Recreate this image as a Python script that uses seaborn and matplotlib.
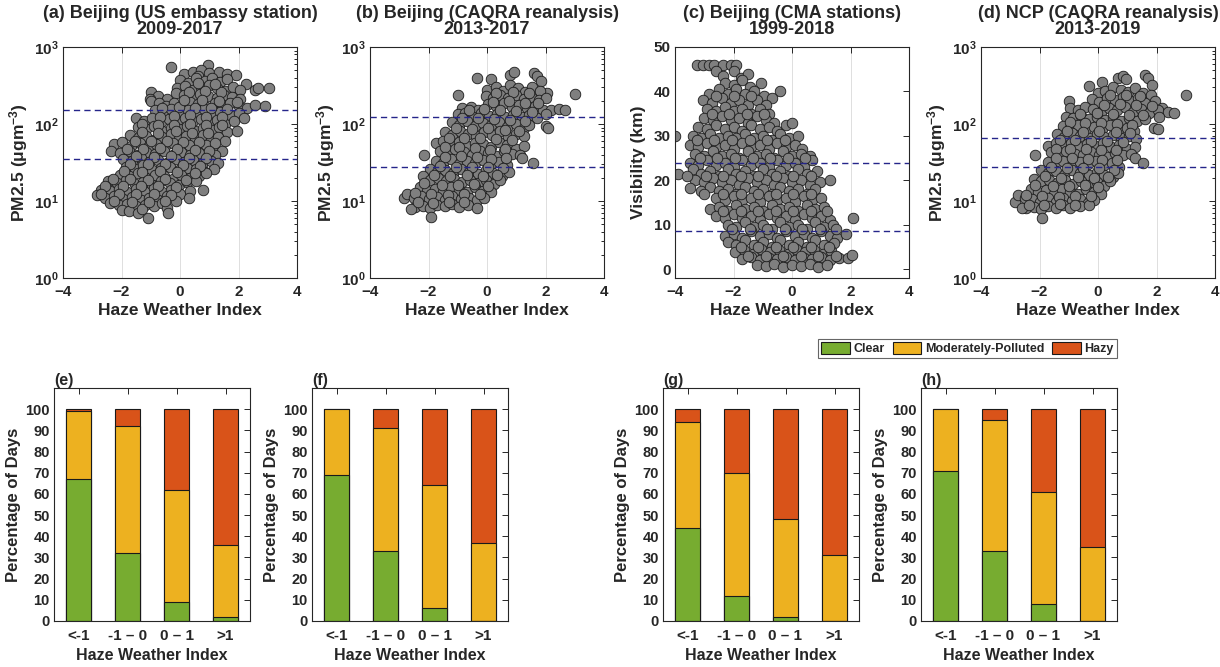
import matplotlib
matplotlib.use("Agg")
import matplotlib.pyplot as plt
import numpy as np
import pandas as pd
import seaborn as sns

# ---------------- data ----------------
# (a) Beijing US embassy: (haze weather index, PM2.5)
pts_a = [(-0.30, 550), (0.95, 590),
 (0.15, 440), (0.45, 470), (0.72, 500), (1.0, 455), (1.35, 480), (1.62, 450), (1.9, 430), (0.6, 420),
 (0.0, 370), (0.28, 340), (0.55, 390), (0.85, 360), (1.1, 400), (1.38, 350), (1.62, 380), (2.25, 330),
 (2.55, 280), (2.65, 290), (3.05, 295),
 (-0.1, 290), (0.18, 310), (0.45, 280), (0.72, 300), (1.0, 320), (1.28, 290), (1.55, 270), (1.8, 300), (2.05, 280),
 (-1.0, 260), (-0.75, 230), (-0.45, 210), (-0.15, 250), (0.12, 235), (0.4, 220), (0.68, 245), (0.95, 230),
 (1.25, 215), (1.5, 240), (1.78, 225), (2.05, 210), (-1.03, 214),
 (-1.0, 200), (-0.72, 185), (-0.48, 170), (-0.2, 190), (0.08, 175), (0.35, 195), (0.62, 180), (0.9, 165),
 (1.18, 190), (1.45, 175), (1.72, 185), (2.0, 170), (2.3, 160), (2.55, 175), (2.9, 172),
 (-0.85, 150), (-0.58, 140), (-0.3, 155), (0.0, 135), (0.28, 150), (0.55, 140), (0.82, 155), (1.1, 135),
 (1.38, 145), (1.7, 130), (2.0, 140), (2.2, 118),
 (-1.5, 120), (-1.22, 110), (-0.95, 118), (-0.65, 105), (-0.38, 115), (-0.1, 108), (0.18, 120), (0.45, 110),
 (0.72, 115), (1.0, 105), (1.28, 112), (1.55, 100), (1.85, 108),
 (-1.45, 92), (-1.15, 85), (-0.88, 95), (-0.6, 82), (-0.3, 90), (-0.02, 86), (0.25, 94), (0.52, 80),
 (0.8, 88), (1.08, 84), (1.35, 92), (1.62, 78), (1.95, 80),
 (-1.72, 72), (-1.45, 65), (-1.15, 70), (-0.9, 62), (-0.6, 68), (-0.32, 74), (-0.05, 64), (0.22, 70),
 (0.5, 66), (0.78, 72), (1.05, 62), (1.3, 68), (1.55, 60),
 (-2.25, 55), (-1.98, 58), (-1.68, 52), (-1.38, 56), (-1.1, 50), (-0.82, 55), (-0.52, 52), (-0.25, 57),
 (0.05, 50), (0.32, 54), (0.6, 49), (0.88, 53), (1.15, 47), (1.42, 45),
 (-2.35, 45), (-2.05, 42), (-1.75, 44), (-1.45, 40), (-1.15, 43), (-0.85, 41), (-0.55, 45), (-0.25, 40),
 (0.05, 43), (0.35, 39), (0.65, 42), (0.95, 38), (1.2, 40),
 (-1.95, 35), (-1.65, 33), (-1.35, 36), (-1.05, 32), (-0.75, 34), (-0.45, 31), (-0.15, 35), (0.15, 32),
 (0.45, 34), (0.75, 30), (1.05, 33), (1.3, 31),
 (-1.85, 28), (-1.55, 26), (-1.25, 29), (-0.95, 25), (-0.65, 27), (-0.35, 28), (-0.05, 25), (0.25, 27),
 (0.55, 26), (0.85, 24), (1.15, 26),
 (-2.05, 22), (-1.75, 21), (-1.45, 23), (-1.15, 20), (-0.85, 22), (-0.55, 21), (-0.25, 19.5), (0.05, 22),
 (0.35, 20), (0.65, 21), (0.9, 23),
 (-2.45, 18), (-2.15, 17), (-1.85, 18.5), (-1.55, 16.5), (-1.25, 17.5), (-0.95, 16), (-0.65, 18), (-0.35, 17),
 (-0.05, 16), (0.25, 17.5), (0.55, 18), (0.8, 14),
 (-2.7, 14), (-2.4, 13.5), (-2.1, 14.5), (-1.8, 13), (-1.5, 14.2), (-1.2, 13.2), (-0.9, 14.6), (-0.6, 13),
 (-0.3, 14), (0.0, 12.5), (0.35, 13.5),
 (-2.85, 12), (-2.55, 11), (-2.25, 11.5), (-1.95, 10.5), (-1.65, 11.2), (-1.35, 10.2), (-1.05, 11),
 (-0.75, 10.4), (-0.45, 11.5), (-0.15, 10), (0.3, 11),
 (-2.4, 9.5), (-2.1, 8.8), (-1.8, 9.2), (-1.5, 8.5), (-1.2, 9), (-0.9, 8.7), (-0.6, 9.3), (-0.45, 8.0),
 (-2.0, 7.6), (-1.75, 7.5), (-1.45, 7.0), (-1.3, 7.8), (-0.4, 7.0), (-1.1, 6.1),
 # denser core
 (-0.6, 160), (-0.05, 165), (0.5, 160), (1.05, 160), (1.6, 155), (-0.7, 125), (-0.2, 128), (0.35, 130),
 (0.9, 125), (1.45, 122), (-1.3, 100), (-0.75, 98), (-0.2, 97), (0.35, 100), (0.9, 96), (1.45, 98),
 (-1.3, 78), (-0.75, 76), (-0.15, 80), (0.4, 77), (0.95, 76), (-1.55, 60), (-1.0, 61), (-0.45, 60),
 (0.1, 58), (0.65, 58), (1.2, 56), (-1.8, 48), (-1.25, 48), (-0.7, 49), (-0.1, 47), (0.5, 46), (1.0, 45),
 (-1.5, 38), (-0.9, 37), (-0.3, 38), (0.3, 36), (0.9, 36), (-1.7, 30), (-1.1, 30.5), (-0.5, 30),
 (0.1, 29.5), (0.7, 28.5), (-1.9, 24.5), (-1.3, 24), (-0.7, 24.5), (-0.1, 23.5), (0.5, 23),
 (-2.3, 19.5), (-1.7, 19.5), (-1.1, 19), (-0.5, 19.5), (0.2, 19), (-2.55, 15.5), (-1.95, 15.5),
 (-1.35, 15.5), (-0.75, 15.5), (-0.15, 15), (-2.7, 12.5), (-2.1, 12.5), (-1.5, 12.5), (-0.9, 12.2),
 (-0.3, 12), (-2.25, 10), (-1.65, 9.8), (-1.05, 9.8), (-0.5, 10), (0.3, 260), (0.85, 265), (1.4, 260),
 (0.6, 340), (1.2, 330), (0.15, 205), (0.75, 205), (1.35, 200), (1.95, 195)]

# (b) Beijing CAQRA reanalysis
pts_b = [(-0.33, 400), (0.15, 380), (0.8, 430), (0.92, 470), (1.62, 460), (1.72, 420), (1.85, 360),
 (-1.0, 240), (3.0, 245),
 (0.0, 280), (0.3, 300), (0.55, 270), (0.8, 320), (1.05, 290), (1.3, 260), (1.55, 300), (2.05, 250), (1.8, 270),
 (-0.05, 230), (0.2, 215), (0.45, 240), (0.72, 220), (1.0, 235), (1.25, 210), (1.5, 225), (1.78, 205), (2.0, 215),
 (-0.85, 160), (-0.55, 165), (-0.3, 150), (0.05, 180), (0.3, 170), (0.58, 185), (0.85, 165), (1.1, 175),
 (1.38, 160), (1.65, 170), (1.9, 150), (2.2, 150), (2.45, 155), (2.65, 150),
 (-1.0, 135), (-0.75, 140), (-0.48, 125), (-0.2, 138), (0.08, 128), (0.35, 135), (0.62, 122), (0.9, 132),
 (1.18, 125), (1.45, 130), (1.7, 118), (2.0, 135),
 (-1.2, 105), (-0.95, 98), (-0.68, 108), (-0.4, 95), (-0.12, 102), (0.15, 96), (0.42, 106), (0.7, 92),
 (0.98, 100), (1.25, 90), (1.45, 96), (2.0, 95), (2.1, 90),
 (-1.45, 78), (-1.2, 72), (-0.92, 80), (-0.65, 74), (-0.38, 70), (-0.1, 78), (0.18, 72), (0.45, 80),
 (0.72, 68), (1.0, 75), (1.28, 70),
 (-1.75, 56), (-1.5, 60), (-1.22, 54), (-0.95, 58), (-0.68, 52), (-0.4, 57), (-0.12, 55), (0.15, 50),
 (0.42, 58), (0.7, 53), (0.98, 48), (1.25, 52),
 (-1.6, 45), (-1.35, 42), (-1.08, 47), (-0.8, 43), (-0.52, 40), (-0.25, 45), (0.02, 42), (0.3, 38),
 (0.58, 44), (0.85, 41), (1.12, 40), (1.2, 36), (-2.17, 40),
 (-1.75, 33), (-1.5, 31), (-1.22, 35), (-0.95, 30), (-0.68, 33), (-0.4, 31), (-0.12, 34), (0.15, 30),
 (0.42, 32), (0.7, 29), (1.56, 31),
 (-1.95, 26), (-1.7, 24), (-1.42, 25.5), (-1.15, 23), (-0.88, 26), (-0.6, 24), (-0.32, 22.5), (-0.05, 25),
 (0.22, 23), (0.5, 21), (0.75, 24),
 (-2.2, 21), (-1.95, 19), (-1.68, 20), (-1.4, 18), (-1.12, 19.5), (-0.85, 17.5), (-0.58, 19), (-0.3, 17),
 (-0.02, 18.5), (0.25, 16.5), (0.45, 19),
 (-2.3, 15), (-2.05, 13.5), (-1.78, 14.5), (-1.5, 13), (-1.22, 15), (-0.95, 14), (-0.68, 13.2), (-0.4, 15.2),
 (-0.12, 13.5), (0.15, 13),
 (-2.85, 11), (-2.75, 12.5), (-2.5, 11), (-2.25, 11.5), (-2.0, 10.5), (-1.72, 11.2), (-1.45, 10.2),
 (-1.18, 11.5), (-0.9, 10.5), (-0.62, 11), (-0.35, 10.2), (-0.1, 10.8),
 (-2.45, 8.3), (-2.2, 8.6), (-1.95, 8.2), (-1.7, 9.0), (-1.45, 8.5), (-1.2, 9.2), (-0.95, 8.4), (-0.65, 8.8),
 (-0.35, 8.0), (-2.6, 7.9), (-1.92, 6.2),
 # denser core
 (0.3, 250), (0.9, 260), (1.45, 250), (0.2, 195), (0.75, 200), (1.3, 190), (1.75, 185),
 (-0.6, 150), (-0.1, 155), (0.45, 150), (1.0, 148), (1.55, 145), (-0.85, 118), (-0.3, 118), (0.25, 115),
 (0.8, 112), (1.3, 110), (-1.05, 88), (-0.5, 86), (0.05, 88), (0.6, 84), (1.1, 82), (-1.3, 65), (-0.8, 66),
 (-0.25, 65), (0.3, 64), (0.85, 62), (-1.45, 50), (-0.95, 50), (-0.4, 49), (0.1, 46), (0.6, 47),
 (-1.45, 37), (-0.9, 38), (-0.35, 37), (0.15, 35), (0.65, 36), (-1.6, 28.5), (-1.05, 28), (-0.5, 27.5),
 (0.05, 28), (0.55, 26.5), (-1.8, 21.5), (-1.25, 21), (-0.7, 21.5), (-0.15, 21), (0.35, 22),
 (-2.15, 17), (-1.55, 16), (-1.0, 16.2), (-0.45, 16.8), (0.05, 15.8), (-2.45, 12.8), (-1.9, 12.2),
 (-1.35, 12), (-0.8, 12.2), (-0.25, 12.3), (-2.35, 9.6), (-1.85, 9.5), (-1.3, 9.8), (-0.8, 9.6)]

# (c) Beijing CMA stations: (haze weather index, visibility km)
pts_c = [(-3.25, 46), (-3.05, 46), (-2.85, 46), (-2.65, 46), (-2.35, 46), (-2.1, 46), (-1.9, 46),
 (-2.6, 44.5), (-2.35, 43.5), (-2.0, 44.5), (-1.75, 43), (-1.5, 44),
 (-2.3, 42), (-2.0, 41.5), (-1.7, 42.5), (-1.45, 41), (-1.05, 42), (-0.4, 40),
 (-2.85, 39.5), (-2.5, 40.5), (-2.2, 39.5), (-1.9, 40.5), (-1.6, 39.5), (-1.3, 40), (-0.95, 39), (-0.7, 38.5),
 (-3.05, 38), (-2.75, 37.5), (-2.4, 38.5), (-2.1, 37.5), (-1.8, 38), (-1.5, 37), (-1.2, 38), (-0.9, 37),
 (-2.9, 36), (-2.6, 35.5), (-2.3, 36.5), (-2.0, 35.5), (-1.7, 36), (-1.4, 35), (-1.1, 36), (-0.8, 35),
 (-3.0, 34), (-2.7, 33.5), (-2.4, 34.5), (-2.1, 33.5), (-1.8, 34), (-1.5, 33), (-1.2, 34.5), (-0.9, 33.5), (-0.6, 33),
 (-3.2, 32), (-2.9, 31.5), (-2.6, 32.5), (-2.3, 31.5), (-2.0, 32), (-1.7, 31), (-1.4, 32.5), (-1.1, 31.5),
 (-0.8, 32), (-0.5, 31), (-0.2, 32.5), (0.0, 33),
 (-4.0, 30), (-3.4, 30), (-3.1, 29.5), (-2.8, 30.5), (-2.5, 29.5), (-2.2, 30), (-1.9, 29.5), (-1.6, 30.5),
 (-1.3, 29.5), (-1.0, 30), (-0.7, 29), (-0.4, 30.5), (-0.1, 29.5), (0.2, 30),
 (-3.5, 28), (-3.2, 27.5), (-2.9, 28.5), (-2.6, 27.5), (-2.3, 28), (-2.0, 27), (-1.7, 28.5), (-1.4, 27.5),
 (-1.1, 28), (-0.8, 27), (-0.5, 28.5), (-0.2, 27.5), (0.1, 28), (0.35, 27),
 (-3.3, 26), (-3.0, 25.5), (-2.7, 26.5), (-2.4, 25.5), (-2.1, 26), (-1.8, 25), (-1.5, 26.5), (-1.2, 25.5),
 (-0.9, 26), (-0.6, 25), (-0.3, 26.5), (0.0, 25.5), (0.3, 26), (0.6, 25.5),
 (-3.5, 24), (-3.2, 23.5), (-2.9, 24.5), (-2.6, 23.5), (-2.3, 24), (-2.0, 23), (-1.7, 24.5), (-1.4, 23.5),
 (-1.1, 24), (-0.8, 23), (-0.5, 24.5), (-0.2, 23.5), (0.1, 24), (0.4, 23), (0.7, 24.5),
 (-3.9, 21.5), (-3.4, 22.5), (-3.1, 21.5), (-2.8, 22), (-2.5, 21), (-2.2, 22.5), (-1.9, 21.5), (-1.6, 22),
 (-1.3, 21), (-1.0, 22.5), (-0.7, 21.5), (-0.4, 22), (-0.1, 21), (0.2, 22.5), (0.5, 21.5), (0.85, 22),
 (-3.3, 20), (-3.0, 19.5), (-2.7, 20.5), (-2.4, 19.5), (-2.1, 20), (-1.8, 19), (-1.5, 20.5), (-1.2, 19.5),
 (-0.9, 20), (-0.6, 19), (-0.3, 20.5), (0.0, 19.5), (0.3, 20), (0.6, 19), (0.95, 19.5), (1.3, 20),
 (-3.5, 18.2), (-3.1, 17.5), (-2.8, 18.5), (-2.5, 17.5), (-2.2, 18), (-1.9, 17), (-1.6, 18.5), (-1.3, 17.5),
 (-1.0, 18), (-0.7, 17), (-0.4, 18.5), (-0.1, 17.5), (0.2, 18), (0.5, 17), (0.8, 18),
 (-2.6, 16), (-2.3, 15.5), (-2.0, 16.5), (-1.7, 15.5), (-1.4, 16), (-1.1, 15), (-0.8, 16.5), (-0.5, 15.5),
 (-0.2, 16), (0.1, 15), (0.4, 16.5), (0.7, 15.5), (1.0, 16),
 (-2.8, 13.5), (-2.5, 14), (-2.2, 13), (-1.9, 14.5), (-1.6, 13.5), (-1.3, 14), (-1.0, 13), (-0.7, 14.5),
 (-0.4, 13.5), (-0.1, 14), (0.2, 13), (0.5, 14.5), (0.8, 13.5), (1.1, 14),
 (-2.6, 12), (-2.3, 11.5), (-2.0, 12.5), (-1.7, 11.5), (-1.4, 12), (-1.1, 11), (-0.8, 12.5), (-0.5, 11.5),
 (-0.2, 12), (0.1, 11), (0.4, 12.5), (0.7, 11.5), (1.0, 12), (1.3, 11), (2.1, 11.5),
 (-2.2, 10), (-1.9, 9.5), (-1.6, 10.5), (-1.3, 9.5), (-1.0, 10), (-0.7, 9), (-0.4, 10.5), (-0.1, 9.5),
 (0.2, 10), (0.5, 9), (0.8, 10.5), (1.1, 9.5), (1.4, 10),
 (-2.3, 7.5), (-2.0, 8), (-1.7, 7), (-1.4, 8.5), (-1.1, 7.5), (-0.8, 8), (-0.5, 7), (-0.2, 8.5),
 (0.1, 7.5), (0.4, 8), (0.7, 7), (1.0, 8.5), (1.3, 7.5), (1.55, 7), (1.85, 8),
 (-2.2, 6), (-1.9, 5.5), (-1.6, 6.5), (-1.3, 5.5), (-1.0, 6), (-0.7, 5), (-0.4, 6.5), (-0.1, 5.5),
 (0.2, 6), (0.5, 5), (0.8, 6.5), (1.1, 5.5), (1.45, 5.8),
 (-1.95, 3.8), (-1.65, 4.2), (-1.35, 3.5), (-1.05, 4.5), (-0.75, 3.8), (-0.45, 4.2), (-0.15, 3.5),
 (0.15, 4.5), (0.45, 3.8), (0.75, 4.2), (1.05, 3.5), (1.35, 4),
 (-1.7, 2.2), (-1.4, 2.8), (-1.1, 2.0), (-0.8, 2.6), (-0.5, 2.2), (-0.2, 2.8), (0.1, 2.0), (0.4, 2.6),
 (0.7, 2.2), (1.0, 2.8), (1.3, 2.0), (1.6, 2.4), (1.9, 2.6), (2.05, 3.2),
 (-1.2, 1.0), (-0.9, 0.6), (-0.6, 1.2), (-0.3, 0.5), (0.0, 1.0), (0.3, 0.6), (0.6, 1.2), (0.9, 0.5), (1.2, 0.9),
 # denser core
 (-3.25, 29), (-2.65, 29), (-2.05, 29), (-1.45, 29), (-0.85, 29), (-0.25, 29),
 (-3.15, 25), (-2.55, 25), (-1.95, 25), (-1.35, 25), (-0.75, 25), (-0.15, 25), (0.45, 25),
 (-3.6, 21), (-2.95, 21), (-2.35, 21), (-1.75, 21), (-1.15, 21), (-0.55, 21), (0.05, 21), (0.65, 21),
 (-3.0, 17), (-2.35, 17), (-1.75, 17), (-1.15, 17), (-0.55, 17), (0.05, 17), (0.65, 17),
 (-2.35, 13), (-1.75, 13), (-1.15, 13), (-0.55, 13), (0.05, 13), (0.65, 13), (1.2, 13),
 (-2.05, 9), (-1.45, 9), (-0.85, 9), (-0.25, 9), (0.35, 9), (0.95, 9), (1.5, 9),
 (-1.75, 5), (-1.15, 5), (-0.55, 5), (0.05, 5), (0.65, 5), (1.25, 5),
 (-1.5, 3), (-0.9, 3), (-0.3, 3), (0.3, 3), (0.9, 3), (1.5, 3),
 (-2.75, 35), (-2.15, 35), (-1.55, 35), (-0.95, 35), (-2.6, 39), (-2.0, 39), (-1.4, 39)]

# (d) NCP CAQRA reanalysis
pts_d = [(-0.3, 310), (0.15, 350), (0.7, 400), (0.85, 420), (0.95, 380), (1.62, 430), (1.7, 400), (1.85, 320),
 (-1.0, 200), (3.02, 240),
 (0.0, 250), (0.25, 270), (0.5, 300), (0.78, 280), (1.02, 260), (1.28, 290), (1.55, 250), (1.8, 240),
 (-0.2, 210), (0.05, 195), (0.3, 220), (0.58, 205), (0.85, 225), (1.1, 200), (1.38, 215), (1.62, 190),
 (1.95, 200), (2.2, 160),
 (-0.95, 160), (-0.7, 150), (-0.45, 165), (-0.18, 155), (0.1, 145), (0.38, 160), (0.65, 150), (0.92, 165),
 (1.2, 145), (1.48, 155), (1.75, 140), (2.05, 150), (2.4, 145), (2.6, 140),
 (-1.1, 125), (-0.85, 118), (-0.58, 128), (-0.3, 115), (-0.02, 122), (0.25, 112), (0.52, 125), (0.8, 110),
 (1.05, 120), (1.32, 108), (1.6, 115), (2.1, 125),
 (-1.2, 95), (-0.95, 88), (-0.68, 96), (-0.4, 85), (-0.12, 92), (0.15, 86), (0.42, 98), (0.7, 84),
 (0.98, 90), (1.22, 82), (1.92, 88), (2.05, 86),
 (-1.4, 74), (-1.15, 68), (-0.88, 76), (-0.6, 70), (-0.32, 66), (-0.05, 74), (0.22, 68), (0.5, 72),
 (0.78, 65), (1.05, 70), (1.3, 64),
 (-1.72, 52), (-1.45, 57), (-1.2, 53), (-0.92, 56), (-0.65, 50), (-0.38, 55), (-0.1, 52), (0.18, 57),
 (0.45, 51), (0.72, 54), (1.0, 48), (1.25, 50),
 (-1.6, 43), (-1.35, 40), (-1.08, 44), (-0.8, 41), (-0.52, 39), (-0.25, 43), (0.02, 40), (0.3, 37),
 (0.58, 42), (0.85, 39), (1.12, 41), (1.25, 36), (-2.15, 39),
 (-1.7, 32), (-1.45, 30), (-1.18, 33), (-0.9, 29), (-0.62, 32), (-0.35, 30), (-0.08, 33), (0.2, 29),
 (0.48, 31), (0.72, 28), (1.53, 31),
 (-1.95, 25), (-1.7, 23), (-1.42, 24.5), (-1.15, 22), (-0.88, 25), (-0.6, 23), (-0.32, 21.5), (-0.05, 24),
 (0.22, 22), (0.5, 20.5), (0.7, 23),
 (-2.2, 19.5), (-1.95, 18), (-1.68, 19), (-1.4, 17), (-1.12, 18.5), (-0.85, 16.5), (-0.58, 18), (-0.3, 16),
 (-0.02, 17.5), (0.2, 15.5), (0.4, 18),
 (-2.3, 14.5), (-2.05, 13), (-1.78, 14), (-1.5, 12.5), (-1.22, 14.2), (-0.95, 13.2), (-0.68, 12.5),
 (-0.4, 14.5), (-0.12, 13), (0.1, 12.5),
 (-2.85, 9.8), (-2.75, 12), (-2.5, 11), (-2.25, 10.5), (-2.0, 9.8), (-1.72, 10.8), (-1.45, 9.6),
 (-1.18, 11), (-0.9, 10), (-0.62, 10.5), (-0.35, 9.5), (-0.15, 10.2),
 (-2.45, 8.1), (-2.2, 8.3), (-1.95, 7.8), (-1.7, 8.6), (-1.45, 8.0), (-1.2, 8.8), (-0.95, 8.2),
 (-0.6, 8.5), (-0.3, 8.8), (-2.6, 8.0), (-1.9, 6.0),
 # denser core
 (0.4, 240), (0.95, 235), (1.45, 230), (0.2, 175), (0.75, 180), (1.3, 175), (1.85, 170),
 (-0.6, 135), (-0.05, 138), (0.5, 135), (1.05, 132), (1.55, 130), (-0.95, 105), (-0.45, 102), (0.1, 104),
 (0.65, 100), (1.15, 98), (-1.05, 82), (-0.5, 78), (0.05, 80), (0.6, 78), (1.1, 76), (-1.3, 62), (-0.8, 62),
 (-0.25, 60), (0.3, 61), (0.85, 59), (-1.45, 48), (-0.95, 48), (-0.4, 47), (0.1, 46), (0.6, 46),
 (-1.45, 36), (-0.9, 36), (-0.35, 35), (0.15, 34), (0.65, 34), (-1.6, 27.5), (-1.05, 27), (-0.5, 26.5),
 (0.05, 27), (0.55, 25.5), (-1.8, 21), (-1.25, 20), (-0.7, 20.5), (-0.15, 20), (0.35, 20.5),
 (-2.15, 16), (-1.55, 15.5), (-1.0, 15.5), (-0.45, 16), (0.0, 15), (-2.45, 12), (-1.9, 11.5),
 (-1.35, 11.3), (-0.8, 11.5), (-0.25, 11.6), (-2.35, 9.0), (-1.85, 8.9), (-1.3, 9.2), (-0.8, 9.0)]

# threshold lines
lines_a = [150, 35]
lines_b = [125, 28]
lines_c = [23.8, 8.5]
lines_d = [65, 28]

titles_top = ["(a) Beijing (US embassy station)\n2009-2017",
              "(b) Beijing (CAQRA reanalysis)\n2013-2017",
              "(c) Beijing (CMA stations)\n1999-2018",
              "(d) NCP (CAQRA reanalysis)\n2013-2019"]

# bar panels: percentage of days per HWI bin
bins = ["<-1", "-1 \u2013 0", "0 \u2013 1", ">1"]
clear_e = [67, 32, 9, 2];  mod_e = [32, 60, 53, 34]; hazy_e = [1, 8, 38, 64]
clear_f = [69, 33, 6, 0];  mod_f = [31, 58, 58, 37]; hazy_f = [0, 9, 36, 63]
clear_g = [44, 12, 2, 0];  mod_g = [50, 58, 46, 31]; hazy_g = [6, 30, 52, 69]
clear_h = [71, 33, 8, 0];  mod_h = [29, 62, 53, 35]; hazy_h = [0, 5, 39, 65]
labels_bottom = ["(e)", "(f)", "(g)", "(h)"]
categories = ["Clear", "Moderately-Polluted", "Hazy"]
cat_colors = ["#77AC30", "#EDB120", "#D95319"]

# ---------------- style ----------------
sns.set_theme(style="white")
plt.rcParams["font.family"] = ["Liberation Sans", "DejaVu Sans"]
plt.rcParams["font.weight"] = "bold"
plt.rcParams["axes.labelweight"] = "bold"
plt.rcParams["axes.titleweight"] = "bold"
plt.rcParams["mathtext.fontset"] = "custom"
plt.rcParams["mathtext.rm"] = "Liberation Sans:bold"
plt.rcParams["mathtext.bf"] = "Liberation Sans:bold"
plt.rcParams["mathtext.it"] = "Liberation Sans:italic:bold"
plt.rcParams["mathtext.default"] = "rm"

fig = plt.figure(figsize=(12.2, 6.67), dpi=100)

W, H = 1220.0, 667.0
def px_axes(l, t, r, b):
    return fig.add_axes([l / W, 1 - b / H, (r - l) / W, (b - t) / H])

top_lefts = [63, 370, 675, 981]
bot_lefts = [54, 312, 663, 921]

def style_axes(ax, labelsize):
    for sp in ax.spines.values():
        sp.set_color("#262626")
        sp.set_linewidth(0.8)
    ax.tick_params(which="both", direction="in", top=True, right=True,
                   color="#262626", width=0.7, labelsize=labelsize)
    ax.tick_params(which="major", length=4)
    ax.tick_params(which="minor", length=2.2)
    ax.tick_params(axis="x", pad=5)
    ax.tick_params(axis="y", pad=3)

point_sets = [pts_a, pts_b, pts_c, pts_d]
line_sets = [lines_a, lines_b, lines_c, lines_d]

for i in range(4):
    ax = px_axes(top_lefts[i], 47, top_lefts[i] + 234, 278)
    df = pd.DataFrame(point_sets[i], columns=["hwi", "val"])
    ax.grid(True, axis="x", color="#dedede", linewidth=0.7)
    ax.set_axisbelow(True)
    sns.scatterplot(data=df, x="hwi", y="val", ax=ax, s=58, color="#7f7f7f",
                    edgecolor="#1a1a1a", linewidth=0.6, legend=False, zorder=2)
    for v in line_sets[i]:
        ax.axhline(v, color="#25258a", linestyle=(0, (4.5, 3)), linewidth=1.0, zorder=3)
    ax.set_xlim(-4, 4)
    ax.set_xticks([-4, -2, 0, 2, 4])
    if i == 2:
        ax.set_ylim(-2, 50)
        ax.set_yticks([0, 10, 20, 30, 40, 50])
        ax.set_ylabel("Visibility (km)", fontsize=12.5, labelpad=6)
    else:
        ax.set_yscale("log")
        ax.set_ylim(1, 1000)
        ax.set_yticks([1, 10, 100, 1000])
        ax.set_yticklabels([r"$10^{0}$", r"$10^{1}$", r"$10^{2}$", r"$10^{3}$"])
        ax.set_ylabel(r"PM2.5 ($\mu$gm$^{-3}$)", fontsize=12.5, labelpad=3)
    ax.set_xlabel("Haze Weather Index", fontsize=12.5, labelpad=3)
    ax.set_title(titles_top[i], fontsize=13, pad=9, linespacing=1.0)
    style_axes(ax, 11)

bar_sets = [(clear_e, mod_e, hazy_e), (clear_f, mod_f, hazy_f),
            (clear_g, mod_g, hazy_g), (clear_h, mod_h, hazy_h)]

for i in range(4):
    ax = px_axes(bot_lefts[i], 388, bot_lefts[i] + 196, 621)
    clear, mod, hazy = bar_sets[i]
    df = pd.DataFrame({"bin": bins, "clear": clear, "mod": mod, "hazy": hazy})
    df["top_mod"] = df["clear"] + df["mod"]
    df["top_hazy"] = df["top_mod"] + df["hazy"]
    for col, c in zip(["top_hazy", "top_mod", "clear"], cat_colors[::-1]):
        sns.barplot(data=df, x="bin", y=col, order=bins, ax=ax, color=c,
                    saturation=1, width=0.5, edgecolor="#1a1a1a", linewidth=0.8,
                    errorbar=None)
    ax.set_xlim(-0.5, 3.5)
    ax.set_ylim(0, 110)
    ax.set_yticks(range(0, 101, 10))
    ax.set_xlabel("Haze Weather Index", fontsize=11.5, labelpad=3)
    ax.set_ylabel("Percentage of Days", fontsize=12, labelpad=3)
    ax.set_title(labels_bottom[i], loc="left", fontsize=11.5, pad=2)
    style_axes(ax, 10.5)
    ax.tick_params(axis="x", labelsize=11, pad=6)

handles = [matplotlib.patches.Patch(facecolor=c, edgecolor="#1a1a1a", linewidth=0.8)
           for c in cat_colors]
leg = fig.legend(handles, categories, loc="upper right", bbox_to_anchor=(1117 / W, 1 - 339 / H),
                 ncol=3, frameon=True, fancybox=False, edgecolor="#404040",
                 handlelength=2.3, handleheight=1.05, handletextpad=0.3, columnspacing=0.6,
                 borderpad=0.25, borderaxespad=0, prop={"size": 9, "weight": "bold"})
leg.get_frame().set_linewidth(0.8)

fig.savefig("out.png", dpi=100)
